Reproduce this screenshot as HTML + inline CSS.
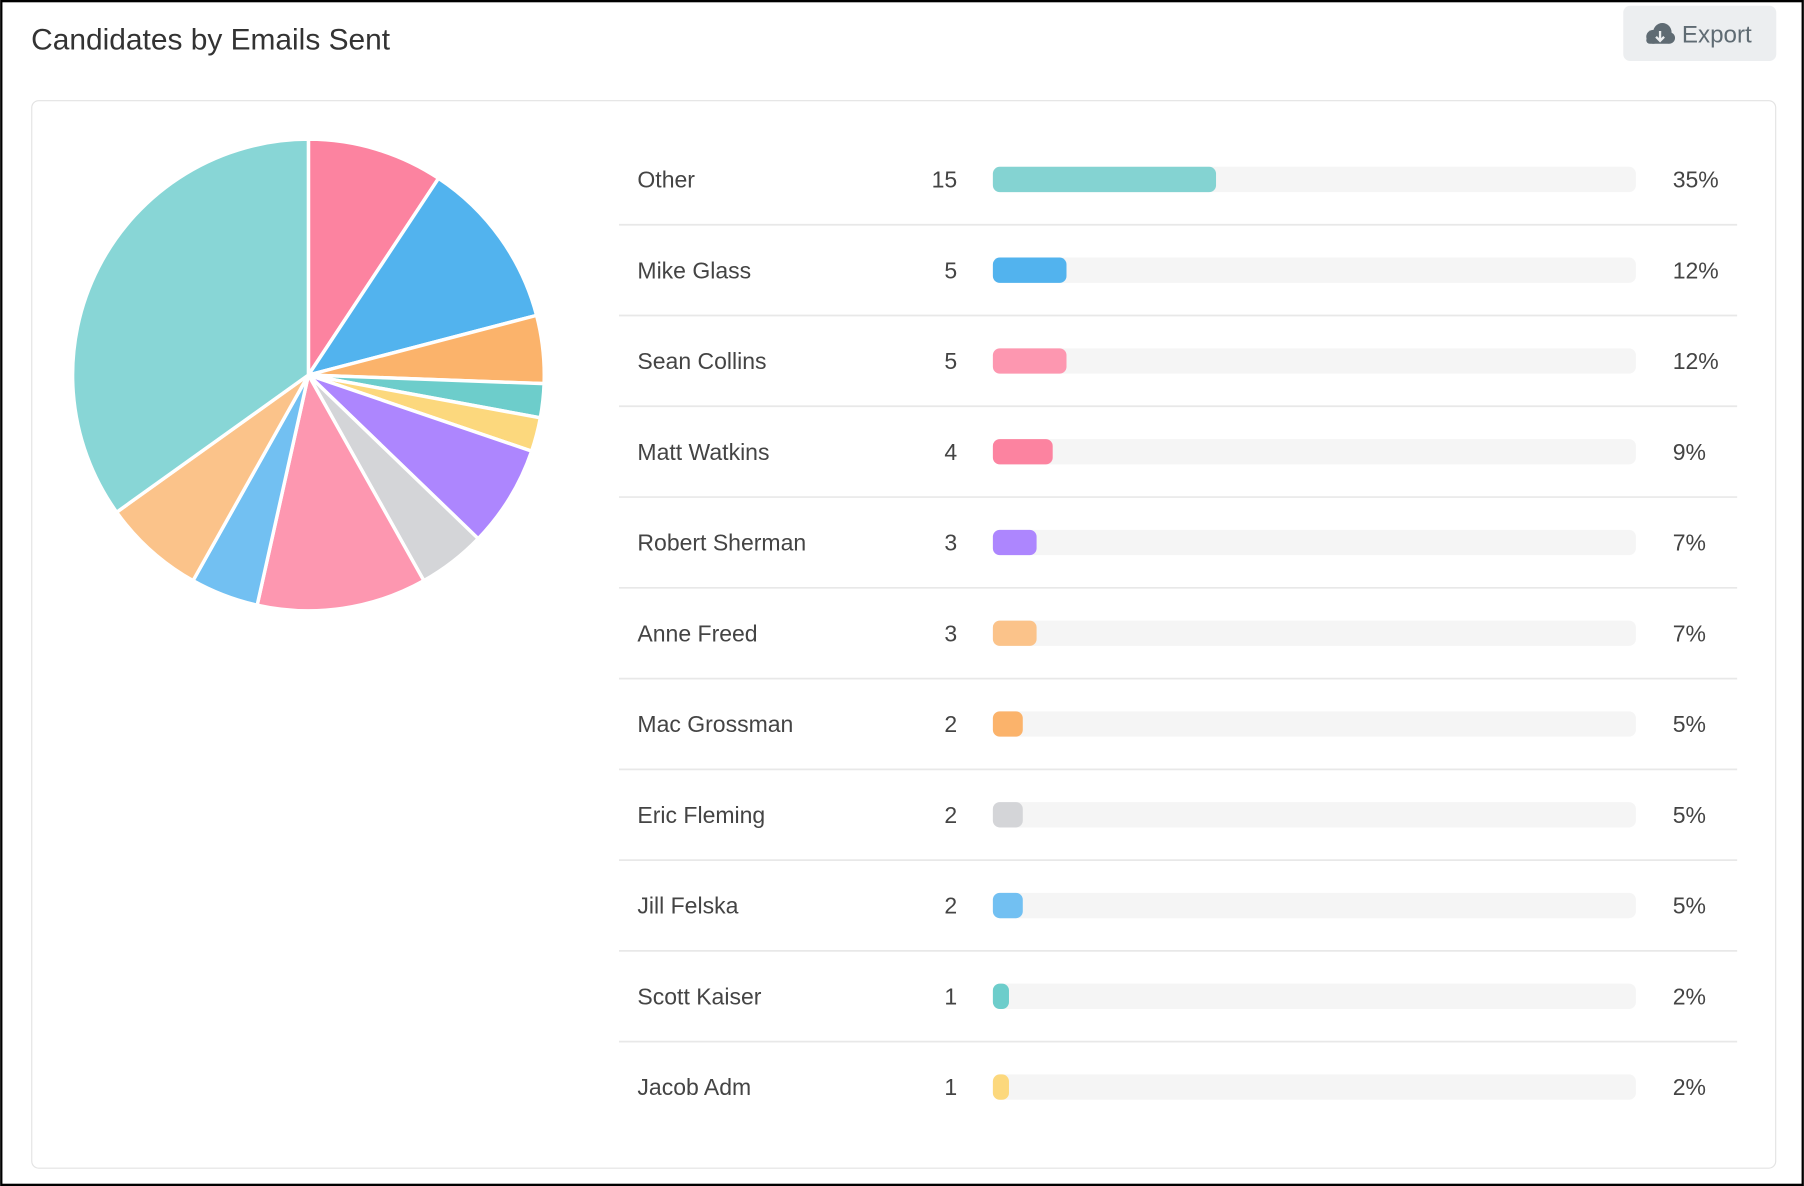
<!DOCTYPE html>
<html><head><meta charset="utf-8"><style>
html,body{margin:0;padding:0;background:#fff;}
svg{display:block;}
text{font-family:"Liberation Sans",sans-serif;}
</style></head><body>
<svg id="s" width="1804" height="1186" viewBox="0 0 1568 1031" xmlns="http://www.w3.org/2000/svg">
<rect x="1" y="1" width="1566" height="1029" fill="#fff" stroke="#000" stroke-width="2"/>
<text x="27" y="43" font-size="26" fill="#333">Candidates by Emails Sent</text>
<rect x="1411" y="5" width="133" height="48" rx="6" fill="#eceef0"/>
<g fill="#5f6b73">
<circle cx="1437" cy="32" r="6"/><circle cx="1445" cy="28" r="8"/><circle cx="1451" cy="33" r="5"/>
<rect x="1431" y="32" width="22" height="6" rx="3"/>
</g>
<path d="M1443 27 v8 M1439.5 32 l3.5 3.5 l3.5 -3.5" stroke="#eceef0" stroke-width="2" fill="none"/>
<text x="1462" y="37" font-size="21" fill="#5f6b73">Export</text>
<rect x="27.5" y="87.5" width="1516" height="928" rx="6" fill="#fff" stroke="#e3e3e3"/>
<g id="pie"></g>
<g id="rows"></g>
</svg>
<script>
var slices=[[4,"#fc83a0"],[5,"#52b3ee"],[2,"#fbb36b"],[1,"#6dcdcb"],[1,"#fcd87d"],[3,"#ad86fe"],[2,"#d4d5d8"],[5,"#fd97b0"],[2,"#72c0f2"],[3,"#fbc38a"],[15,"#88d6d6"]];
var cx=268,cy=326,r=205,tot=43,a=0,h="";
slices.forEach(function(s){var a0=a/tot*2*Math.PI;a+=s[0];var a1=a/tot*2*Math.PI;
var x0=cx+r*Math.sin(a0),y0=cy-r*Math.cos(a0),x1=cx+r*Math.sin(a1),y1=cy-r*Math.cos(a1);
h+='<path d="M'+cx+' '+cy+' L'+x0+' '+y0+' A'+r+' '+r+' 0 '+((a1-a0)>Math.PI?1:0)+' 1 '+x1+' '+y1+' Z" fill="'+s[1]+'" stroke="#fff" stroke-width="3" stroke-linejoin="round"/>';});
document.getElementById("pie").innerHTML=h;
var rows=[["Other",15,"#84d3d2","35%"],["Mike Glass",5,"#52b3ee","12%"],["Sean Collins",5,"#fd97b0","12%"],["Matt Watkins",4,"#fc83a0","9%"],["Robert Sherman",3,"#ad86fe","7%"],["Anne Freed",3,"#fbc38a","7%"],["Mac Grossman",2,"#fbb36b","5%"],["Eric Fleming",2,"#d4d5d8","5%"],["Jill Felska",2,"#72c0f2","5%"],["Scott Kaiser",1,"#6dcdcb","2%"],["Jacob Adm",1,"#fcd87d","2%"]];
var g="";
rows.forEach(function(rw,i){var y=156+i*78.9;
if(i>0)g+='<line x1="538" x2="1510" y1="'+(y-39.5)+'" y2="'+(y-39.5)+'" stroke="#e8e8e8" stroke-width="1.5"/>';
g+='<text x="554" y="'+(y+7)+'" font-size="20" fill="#444">'+rw[0]+'</text>';
g+='<text x="832" y="'+(y+7)+'" font-size="20" fill="#444" text-anchor="end">'+rw[1]+'</text>';
g+='<rect x="863" y="'+(y-11)+'" width="559" height="22" rx="6" fill="#f5f5f5"/>';
var w=[0,14,26,38,52,64][rw[1]]||194;
g+='<rect x="863" y="'+(y-11)+'" width="'+w+'" height="22" rx="6" fill="'+rw[2]+'"/>';
g+='<text x="1454" y="'+(y+7)+'" font-size="20" fill="#444">'+rw[3]+'</text>';});
document.getElementById("rows").innerHTML=g;
</script>
</body></html>
